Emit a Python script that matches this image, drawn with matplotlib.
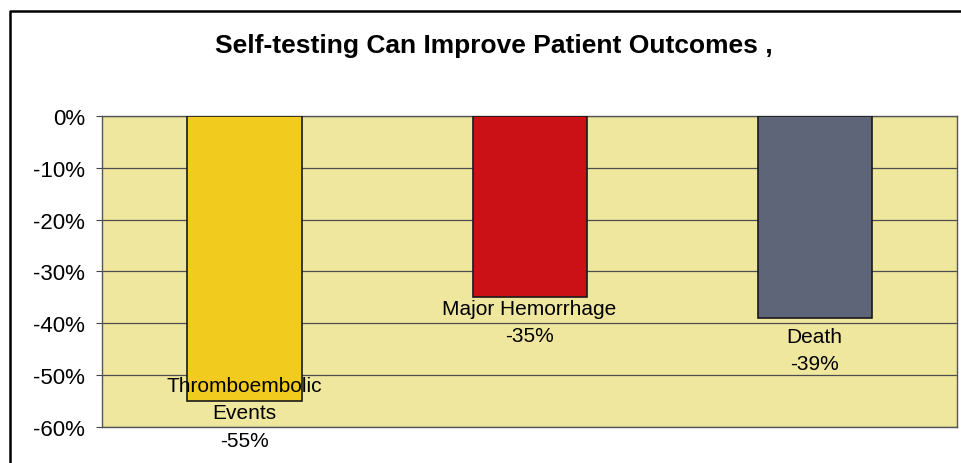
import matplotlib
matplotlib.use("Agg")
import matplotlib.pyplot as plt
from matplotlib.lines import Line2D
from matplotlib.ticker import FuncFormatter

# data
categories = ["Thromboembolic\nEvents", "Major Hemorrhage", "Death"]
values = [-55, -35, -39]
bar_colors = ["#F2CB1F", "#CC1116", "#5E6579"]
# vertical shift of each data label block (in % units) below the bar end
label_offsets = [-2.3, -4.7, -6.1]
yticks = [0, -10, -20, -30, -40, -50, -60]
title = "Self-testing Can Improve Patient Outcomes ,"

plt.rcParams["font.family"] = ["Liberation Sans", "DejaVu Sans"]

fig = plt.figure(figsize=(9.62, 4.64), dpi=100)
ax = fig.add_axes([0.106, 0.0776, 0.889, 0.6703])

x = list(range(len(categories)))
ax.bar(x, values, width=0.4, color=bar_colors, edgecolor="#1a1a1a", linewidth=1.2, zorder=3)

for xi, v, cat, off in zip(x, values, categories, label_offsets):
    ax.text(xi, v + off, f"{cat}\n{v}%", ha="center", va="center",
            fontsize=15, linespacing=1.55, color="black", zorder=5)

ax.set_xlim(-0.5, len(categories) - 0.5)
ax.set_ylim(-60, 0)
ax.set_yticks(yticks)
ax.yaxis.set_major_formatter(FuncFormatter(lambda v, p: f"{v:.0f}%"))
ax.tick_params(axis="y", labelsize=16, length=4, pad=8, color="#444444")
ax.set_xticks([])
ax.set_facecolor("#F0E79E")
ax.grid(axis="y", color="#4d4d4d", linewidth=0.9, zorder=0)
ax.set_axisbelow(True)
for s in ax.spines.values():
    s.set_color("#555555")
    s.set_linewidth(1.0)

fig.text(0.513, 0.900, title, ha="center", va="center", fontsize=19, fontweight="bold")

# outer frame (top and left border only visible)
fx = 10 / 962
fy = 1 - 12 / 464
fig.add_artist(Line2D([fx, fx, 1.0], [0.0, fy, fy], transform=fig.transFigure,
                      color="black", linewidth=1.8))

fig.savefig("out.png", dpi=100)
